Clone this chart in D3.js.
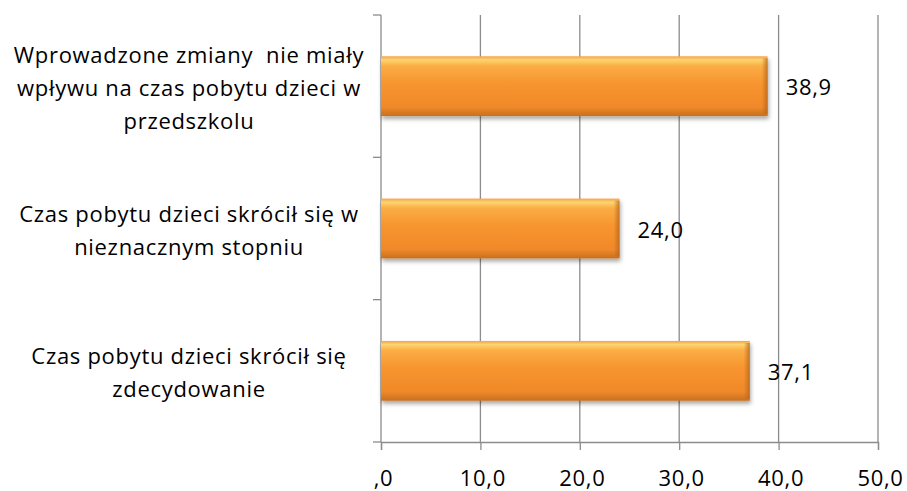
<!DOCTYPE html>
<html>
<head>
<meta charset="utf-8">
<script src="https://cdn.jsdelivr.net/npm/d3@7"></script>
<style>
  body { margin: 0; background: #fff; }
  text { font-family: "Open Sans", sans-serif; fill: #000; white-space: pre; letter-spacing: 0.7px; }
</style>
</head>
<body>
<script>
// categories (top to bottom), each split into lines as in the original
const categories = [
	["Wprowadzone zmiany  nie miały", "wpływu na czas pobytu dzieci w", "przedszkolu"],
	["Czas pobytu dzieci skrócił się w", "nieznacznym stopniu"],
	["Czas pobytu dzieci skrócił się", "zdecydowanie"]
];
const values = [38.9, 24.0, 37.1];
const xTicks = [0, 10, 20, 30, 40, 50];
const xTickLabels = [",0", "10,0", "20,0", "30,0", "40,0", "50,0"];

const width = 907, height = 491;
const margin = { top: 15, right: 29, bottom: 49, left: 381 };
const fontSize = "22px";

let svg = d3.select("body").append("svg")
	.attr("width", width)
	.attr("height", height);

let defs = svg.append("defs");

// vertical shading of the bar
let grad = defs.append("linearGradient")
	.attr("id", "barGrad")
	.attr("x1", 0).attr("y1", 0).attr("x2", 0).attr("y2", 1);
grad.append("stop").attr("offset", "0%").attr("stop-color", "#f4a24a");
grad.append("stop").attr("offset", "6%").attr("stop-color", "#fdd56f");
grad.append("stop").attr("offset", "16%").attr("stop-color", "#fbad45");
grad.append("stop").attr("offset", "45%").attr("stop-color", "#f7952f");
grad.append("stop").attr("offset", "85%").attr("stop-color", "#f0892a");
grad.append("stop").attr("offset", "100%").attr("stop-color", "#c7701f");

// darker right end
let endGrad = defs.append("linearGradient")
	.attr("id", "endGrad")
	.attr("x1", 0).attr("y1", 0).attr("x2", 1).attr("y2", 0);
endGrad.append("stop").attr("offset", "0%").attr("stop-color", "#b8661a").attr("stop-opacity", 0);
endGrad.append("stop").attr("offset", "100%").attr("stop-color", "#b8661a").attr("stop-opacity", 0.8);

let shadow = defs.append("filter").attr("id", "shadow")
	.attr("x", "-5%").attr("y", "-20%").attr("width", "110%").attr("height", "150%");
shadow.append("feGaussianBlur").attr("in", "SourceAlpha").attr("stdDeviation", 2);
shadow.append("feOffset").attr("dx", 1).attr("dy", 3).attr("result", "b");
shadow.append("feComponentTransfer").append("feFuncA").attr("type", "linear").attr("slope", 0.35);
let merge = shadow.append("feMerge");
merge.append("feMergeNode");
merge.append("feMergeNode").attr("in", "SourceGraphic");

let x = d3.scaleLinear()
	.domain([0, 50])
	.range([margin.left, width - margin.right]);

let y = d3.scaleBand()
	.domain(d3.range(categories.length))
	.range([margin.top, height - margin.bottom])
	.paddingInner(0.58)
	.paddingOuter(0.29);

let yEdges = d3.scaleLinear()
	.domain([0, categories.length])
	.range([margin.top, height - margin.bottom]);

//gridlines
svg.append("g")
	.selectAll("line")
	.data(xTicks.slice(1))
	.enter().append("line")
	.attr("x1", d => x(d)).attr("x2", d => x(d))
	.attr("y1", margin.top).attr("y2", height - margin.bottom)
	.attr("stroke", "#8c8c8c")
	.attr("stroke-width", 1.3);

//bottom axis
let xAxis = d3.axisBottom(x)
	.tickValues(xTicks)
	.tickFormat((d, i) => xTickLabels[i])
	.tickSize(8)
	.tickPadding(20);
let gx = svg.append("g")
	.attr("transform", `translate(0,${height - margin.bottom})`)
	.call(xAxis);
gx.select(".domain").attr("stroke", "#8c8c8c").attr("stroke-width", 1.3);
gx.selectAll(".tick line").attr("stroke", "#8c8c8c").attr("stroke-width", 1.3);
gx.selectAll(".tick text")
	.attr("dx", 2)
	.style("font-size", fontSize).style("font-family", "'Open Sans', sans-serif");

//left axis with ticks between categories
let gy = svg.append("g");
gy.append("line")
	.attr("x1", margin.left).attr("x2", margin.left)
	.attr("y1", margin.top).attr("y2", height - margin.bottom)
	.attr("stroke", "#8c8c8c").attr("stroke-width", 1.3);
gy.selectAll("line.tick")
	.data(d3.range(categories.length + 1))
	.enter().append("line")
	.attr("class", "tick")
	.attr("x1", margin.left - 8).attr("x2", margin.left)
	.attr("y1", d => yEdges(d)).attr("y2", d => yEdges(d))
	.attr("stroke", "#8c8c8c").attr("stroke-width", 1.3);

//bars
let bars = svg.append("g")
	.selectAll("g")
	.data(values)
	.enter().append("g");
bars.append("rect")
	.attr("x", x(0))
	.attr("y", (d, i) => y(i))
	.attr("width", d => x(d) - x(0))
	.attr("height", y.bandwidth())
	.attr("fill", "url(#barGrad)")
	.attr("filter", "url(#shadow)");
bars.append("rect")
	.attr("x", d => x(d) - 6)
	.attr("y", (d, i) => y(i) + 2)
	.attr("width", 6)
	.attr("height", y.bandwidth() - 4)
	.attr("fill", "url(#endGrad)");

//value labels
svg.append("g")
	.selectAll("text")
	.data(values)
	.enter().append("text")
	.attr("x", d => x(d) + 18)
	.attr("y", (d, i) => y(i) + y.bandwidth() / 2 + 9)
	.style("font-size", fontSize)
	.text(d => d.toFixed(1).replace(".", ","));

//category labels
let lineH = 33;
let labels = svg.append("g")
	.selectAll("text")
	.data(categories)
	.enter().append("text")
	.attr("text-anchor", "middle")
	.style("font-size", fontSize);
labels.each(function (lines, i) {
	let cy = y(i) + y.bandwidth() / 2;
	let start = cy - (lines.length - 1) * lineH / 2 + 10;
	d3.select(this).selectAll("tspan")
		.data(lines)
		.enter().append("tspan")
		.attr("x", 189)
		.attr("y", (l, j) => start + j * lineH)
		.text(l => l);
});
</script>
</body>
</html>
